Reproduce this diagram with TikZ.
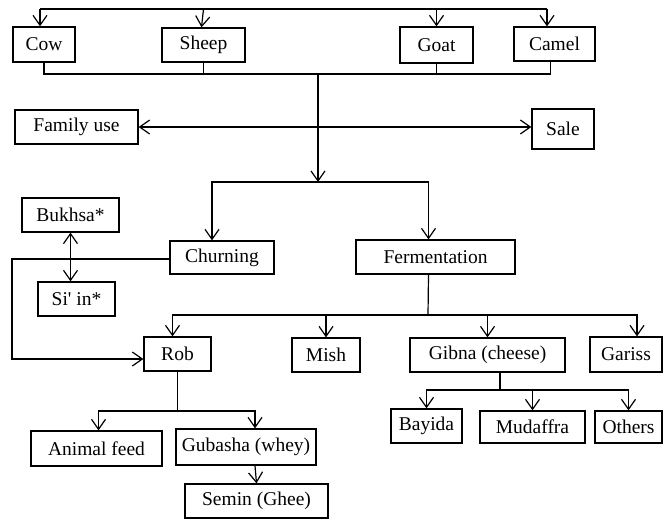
\documentclass[tikz,border=0pt]{standalone}
\usepackage{fontspec}
\setmainfont{Liberation Serif}
\usetikzlibrary{arrows.meta,positioning,calc}

\begin{document}
\begin{tikzpicture}[x=1pt,y=-1pt,
    bx/.style={draw,line width=1.3pt,inner sep=0pt,minimum height=34pt,align=center,font=\fontsize{19.5}{21}\selectfont},
    ln/.style={line width=1.2pt},
    ar/.style={-{Straight Barb[length=10pt,width=14pt]},line width=1.2pt},
    ar2/.style={{Straight Barb[length=10pt,width=14pt]}-{Straight Barb[length=10pt,width=14pt]},line width=1.2pt}
]
\useasboundingbox (0,0) rectangle (663,519);
% animals
\node[bx,minimum width=62pt,minimum height=35pt] (cow) at (44,44.5) {Cow};
\node[bx,minimum width=83pt] (sheep) at (203.5,45) {Sheep};
\node[bx,minimum width=73pt,minimum height=36pt] (goat) at (436.5,45) {Goat};
\node[bx,minimum width=81pt] (camel) at (554.5,44) {Camel};
% use of milk
\node[bx,minimum width=123pt] (famuse) at (76.5,127) {Family use};
\node[bx,minimum width=62pt,minimum height=40pt] (sale) at (563,129) {Sale};
% processing
\node[bx,minimum width=104pt,minimum height=33pt] (churn) at (222,257.5) {Churning};
\node[bx,minimum width=159pt] (ferm) at (435.5,257) {Fermentation};
\node[bx,minimum width=97pt] (bukhsa) at (70.5,215) {Bukhsa*};
\node[bx,minimum width=77pt] (siin) at (76.5,299) {Si\textquotesingle{} in*};
% products
\node[bx,minimum width=67pt] (rob) at (177.5,354) {Rob};
\node[bx,minimum width=68pt] (mish) at (326,355) {Mish};
\node[bx,minimum width=155pt] (gibna) at (487.5,355) {Gibna (cheese)};
\node[bx,minimum width=72pt,minimum height=35pt] (gariss) at (626,354.5) {Gariss};
\node[bx,minimum width=131pt,minimum height=35pt] (anfeed) at (96.5,448.5) {Animal feed};
\node[bx,minimum width=140pt,minimum height=36pt] (gubasha) at (246,447) {Gubasha (whey)};
\node[bx,minimum width=143pt] (semin) at (256.5,501) {Semin (Ghee)};
\node[bx,minimum width=71pt] (bayida) at (426.5,426) {Bayida};
\node[bx,minimum width=105pt,minimum height=32pt] (mudaffra) at (532.5,427) {Mudaffra};
\node[bx,minimum width=67pt,minimum height=32pt] (others) at (628.5,427) {Others};

% top feed line
\coordinate (tl) at (40,9);
\coordinate (tr) at (547,9);
\draw[ln] (tl) -- (tr);
\draw[ar] (tl) -- (tl |- cow.north);
\draw[ar] (tl -| sheep.north) -- ([xshift=-2pt]sheep.north);
\draw[ar] (tl -| goat.north) -- (goat.north);
\draw[ar] (tr) -- (tr |- camel.north);
% collecting line
\coordinate (jn) at (318,74);
\draw[ln] (cow.south) |- (jn) -| ([xshift=-4pt]camel.south);
\draw[ln] (sheep.south) -- (sheep.south |- jn);
\draw[ln] (goat.south) -- (goat.south |- jn);
\coordinate (split) at (318,182);
\draw[ar] (jn) -- (split);
\draw[ar2] (famuse.east) -- (famuse.east -| sale.west);
\draw[ar] (split) -| ([xshift=-10pt]churn.north);
\draw[ar] (split) -| ([xshift=-7pt]ferm.north);
% churning
\draw[ar2] (bukhsa.south) -- (bukhsa.south |- siin.north);
\coordinate (lft) at (12,259);
\draw[ar] (churn.west |- lft) -- (lft) |- ([yshift=-5pt]rob.west);
% fermentation
\coordinate (fb) at (428,315);
\draw[ln] ([xshift=-7pt]ferm.south) -- (fb);
\draw[ar] (fb) -| ([xshift=-5pt]rob.north);
\draw[ar] (fb) -| ([xshift=11pt]gariss.north);
\draw[ar] (fb -| mish.north) -- (mish.north);
\draw[ar] (fb -| gibna.north) -- (gibna.north);
% rob
\coordinate (rb) at (178,411);
\draw[ln] (rob.south) -- (rob.south |- rb);
\draw[ar] (rb) -| ([xshift=2pt]anfeed.north);
\draw[ar] (rb) -| ([xshift=9pt]gubasha.north);
\draw[ar] ([xshift=9pt]gubasha.south) -- (semin.north);
% gibna
\coordinate (gb) at (500,390);
\draw[ln] ([xshift=12.5pt]gibna.south) -- (gb);
\draw[ar] (gb) -| (bayida.north);
\draw[ar] (gb) -| (mudaffra.north);
\draw[ar] (gb) -| (others.north);
\end{tikzpicture}
\end{document}
